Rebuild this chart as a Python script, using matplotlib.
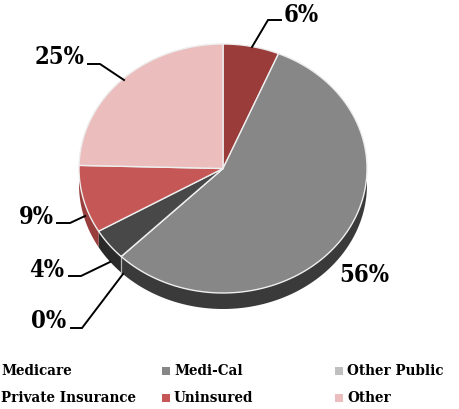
#!/usr/bin/env python3
import numpy as np
import matplotlib
matplotlib.use('Agg')
import matplotlib.pyplot as plt

categories = ['Medicare', 'Medi-Cal', 'Other Public', 'Private Insurance', 'Uninsured', 'Other']
shares = [6.3, 56.2, 0.0, 4.1, 8.8, 24.6]
share_labels = ['6%', '56%', '0%', '4%', '9%', '25%']

top_colors = ['#993c3a', '#878787', '#bfbfbf', '#484848', '#c55856', '#ebbdbd']
side_colors = ['#6f2927', '#3a3a3a', '#808080', '#2a2a2a', '#983e3c', '#ac8a89']

# pie geometry, in pixels of the 459x409 picture
CX, CY = 223, 168.5
A, B = 144, 124.5
DEPTH = 16

# label centre and leader line for each slice
label_pos = [(301, 15), (364, 275), (49, 321), (47, 270), (36, 217), (60, 57)]
leaders = [
    [(252, 47), (268, 20), (281, 20)],
    None,
    [(123, 274), (82, 328), (71, 328)],
    [(110, 262), (81, 276), (69, 276)],
    [(85, 216), (70, 223), (57, 223)],
    [(124, 80), (100, 64), (88, 64)],
]


def project(theta):
    # clockwise from 12 o'clock, circle tilted into an ellipse
    return CX + A * np.sin(theta), CY - B * np.cos(theta)


fig = plt.figure(figsize=(4.59, 4.09), dpi=100)
ax = fig.add_axes([0, 0, 1, 1])
ax.set_xlim(0, 459)
ax.set_ylim(409, 0)
ax.axis('off')

edges = np.cumsum([0] + shares) / sum(shares) * 2 * np.pi

# sides first, the tops go over them
for i in range(len(shares)):
    t = np.linspace(edges[i], edges[i + 1], 120)
    x, y = project(t)
    ax.fill(np.r_[x, x[::-1]], np.r_[y, y[::-1] + DEPTH], color=side_colors[i], lw=0, zorder=2)

# light seam on the side where the big slice starts
x0, y0 = project(edges[2])
ax.plot([x0, x0], [y0, y0 + DEPTH], color='#b5b5b5', lw=0.9, zorder=3)

for i in range(len(shares)):
    t = np.linspace(edges[i], edges[i + 1], 120)
    x, y = project(t)
    ax.fill(np.r_[CX, x], np.r_[CY, y], facecolor=top_colors[i], edgecolor='#eeeeee', lw=1.0,
            joinstyle='round', zorder=4)

for i, text in enumerate(share_labels):
    ax.text(label_pos[i][0], label_pos[i][1], text, ha='center', va='center', fontsize=17,
            family='DejaVu Serif', stretch='condensed', weight='bold', color='black', zorder=6)
    if leaders[i]:
        xs, ys = zip(*leaders[i])
        ax.plot(xs, ys, color='black', lw=1.4, zorder=5, solid_joinstyle='miter')

# legend is placed by hand, the first column has its markers cut off
legend_x = [1, 174, 347]
legend_y = [371, 398]
for i, name in enumerate(categories):
    col, row = i % 3, i // 3
    ax.text(legend_x[col], legend_y[row], name, ha='left', va='center', fontsize=10.8,
            family='DejaVu Serif', stretch='condensed', weight='bold', color='black')
    if col > 0:
        ax.scatter(legend_x[col] - 8, legend_y[row], marker='s', s=28, color=top_colors[i], lw=0)

fig.savefig('out.png', dpi=100)
